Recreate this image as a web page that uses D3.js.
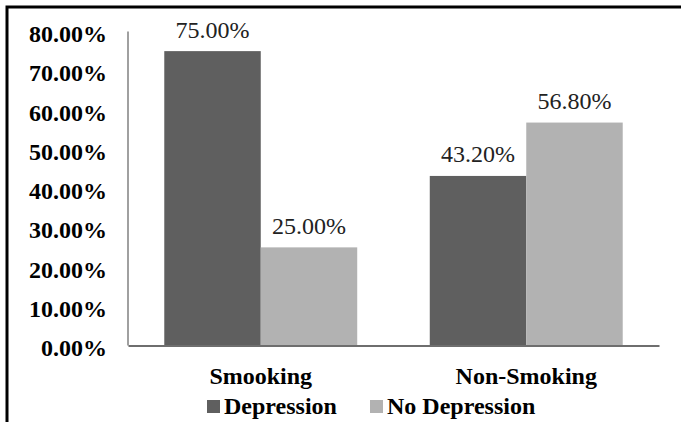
<!DOCTYPE html>
<html>
<head>
<meta charset="utf-8">
<script src="https://cdn.jsdelivr.net/npm/d3@7"></script>
<style>
  html, body { margin: 0; padding: 0; background: #fff; }
  svg { display: block; }
  text { font-family: "Liberation Serif", "Times New Roman", serif; }
</style>
</head>
<body>
<svg id="chart" width="681" height="422"></svg>
<script>
// Share of respondents with / without depression by smoking status
const categories = ["Smooking", "Non-Smoking"];
const seriesNames = ["Depression", "No Depression"];
const depression = [75.0, 43.2];
const noDepression = [25.0, 56.8];
const tickValues = [0, 10, 20, 30, 40, 50, 60, 70, 80];

const colors = { "Depression": "#5f5f5f", "No Depression": "#b2b2b2" };

const rows = categories.map((c, i) => ({
  category: c,
  values: [
    { series: "Depression", value: depression[i] },
    { series: "No Depression", value: noDepression[i] }
  ]
}));

const svg = d3.select("#chart");

const plot = { left: 128, right: 659, top: 31.5, bottom: 345.5 };

const x0 = d3.scaleBand()
  .domain(categories)
  .range([plot.left, plot.right])
  .padding(0);

const x1 = d3.scaleBand()
  .domain(seriesNames)
  .range([0, x0.bandwidth()])
  .paddingInner(0)
  .paddingOuter(0.376);

const y = d3.scaleLinear()
  .domain([0, 80])
  .range([plot.bottom, plot.top]);

// outer frame (top and left edges visible)
svg.append("rect")
  .attr("x", 7).attr("y", 7)
  .attr("width", 760).attr("height", 500)
  .attr("fill", "none")
  .attr("stroke", "#000")
  .attr("stroke-width", 3);

// y axis labels
const yAxis = d3.axisLeft(y)
  .tickValues(tickValues)
  .tickSize(0)
  .tickPadding(21)
  .tickFormat(d => d3.format(".2f")(d) + "%");

const gy = svg.append("g")
  .attr("transform", `translate(${plot.left},0)`)
  .call(yAxis);
gy.select(".domain").remove();
gy.selectAll("text")
  .attr("dy", null)
  .attr("y", 10)
  .attr("fill", "#000")
  .style("font-family", '"Liberation Serif", serif')
  .style("font-size", "24px")
  .style("font-weight", "bold");

// bars
const groups = svg.append("g")
  .selectAll("g")
  .data(rows)
  .join("g")
  .attr("transform", d => `translate(${x0(d.category)},0)`);

groups.selectAll("rect")
  .data(d => d.values)
  .join("rect")
  .attr("x", d => x1(d.series))
  .attr("y", d => y(d.value))
  .attr("width", x1.bandwidth())
  .attr("height", d => y(0) - y(d.value))
  .attr("fill", d => colors[d.series]);

// value labels
groups.selectAll("text.val")
  .data(d => d.values)
  .join("text")
  .attr("class", "val")
  .attr("x", d => x1(d.series) + x1.bandwidth() / 2)
  .attr("y", d => y(d.value) - 13.5)
  .attr("text-anchor", "middle")
  .attr("fill", "#222")
  .style("font-size", "24px")
  .text(d => d3.format(".2f")(d.value) + "%");

// vertical axis line
svg.append("line")
  .attr("x1", plot.left).attr("x2", plot.left)
  .attr("y1", plot.top).attr("y2", plot.bottom)
  .attr("stroke", "#808080")
  .attr("stroke-width", 1.5);

// baseline
const xAxis = d3.axisBottom(x0).tickSize(0).tickPadding(0);
const gx = svg.append("g")
  .attr("transform", `translate(0,${plot.bottom})`)
  .call(xAxis);
gx.select(".domain")
  .attr("stroke", "#6e6e6e")
  .attr("stroke-width", 2);
gx.selectAll("text")
  .attr("dy", null)
  .attr("y", 38)
  .attr("fill", "#000")
  .style("font-family", '"Liberation Serif", serif')
  .style("font-size", "24px")
  .style("font-weight", "bold");

// legend
const legendItems = [
  { name: "Depression", sx: 207, tx: 224 },
  { name: "No Depression", sx: 370, tx: 387 }
];
const legend = svg.append("g");
legend.selectAll("rect")
  .data(legendItems)
  .join("rect")
  .attr("x", d => d.sx)
  .attr("y", 400)
  .attr("width", 13)
  .attr("height", 13)
  .attr("fill", d => colors[d.name]);
legend.selectAll("text")
  .data(legendItems)
  .join("text")
  .attr("x", d => d.tx)
  .attr("y", 413.5)
  .attr("fill", "#000")
  .style("font-size", "24px")
  .style("font-weight", "bold")
  .text(d => d.name);
</script>
</body>
</html>
